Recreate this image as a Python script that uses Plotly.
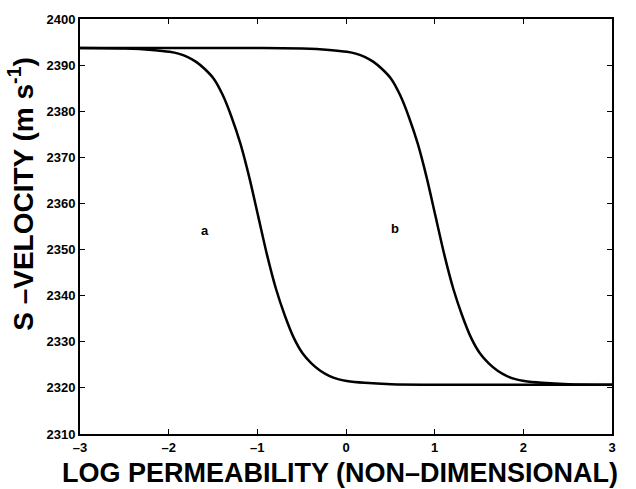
import plotly.graph_objects as go

# Curve a: log permeability vs S-velocity (m/s)
a_x = [-3.0, -2.49, -2.19, -1.99, -1.89, -1.79, -1.69, -1.59, -1.49, -1.39, -1.29,
       -1.19, -1.09, -0.99, -0.89, -0.79, -0.69, -0.59, -0.49, -0.39, -0.29,
       -0.19, -0.09, 0.01, 0.21, 0.51, 1.0, 3.0]
a_y = [2393.7, 2393.6, 2393.3, 2392.9, 2392.5, 2391.8, 2390.7, 2389.1, 2387.0,
       2383.5, 2378.7, 2372.9, 2365.6, 2357.2, 2348.8, 2341.5, 2335.7, 2330.9,
       2327.5, 2325.3, 2323.7, 2322.6, 2321.9, 2321.5, 2321.1, 2320.8, 2320.7,
       2320.7]

# Curve b
b_x = [-3.0, -1.0, -0.49, -0.19, 0.01, 0.11, 0.21, 0.31, 0.41, 0.51, 0.61, 0.71,
       0.81, 0.91, 1.01, 1.11, 1.21, 1.31, 1.41, 1.51, 1.61, 1.71, 1.81, 1.91,
       2.01, 2.21, 2.51, 3.0]
b_y = [2393.7, 2393.7, 2393.6, 2393.3, 2392.9, 2392.5, 2391.8, 2390.7, 2389.1,
       2387.0, 2383.5, 2378.7, 2372.9, 2365.6, 2357.2, 2348.8, 2341.5, 2335.7,
       2330.9, 2327.5, 2325.3, 2323.7, 2322.6, 2321.9, 2321.5, 2321.1, 2320.8,
       2320.7]

x_ticks = [-3, -2, -1, 0, 1, 2, 3]
x_tick_labels = ["\u20133", "\u20132", "\u20131", "0", "1", "2", "3"]
y_ticks = [2310, 2320, 2330, 2340, 2350, 2360, 2370, 2380, 2390, 2400]
y_tick_labels = [str(v) for v in y_ticks]

labels = [("a", -1.59, 2354.1), ("b", 0.553, 2354.5)]

FONT = "Liberation Sans, Arial, Helvetica, sans-serif"

fig = go.Figure()
for xs, ys in [(a_x, a_y), (b_x, b_y)]:
    fig.add_trace(go.Scatter(x=xs, y=ys, mode="lines",
                             line=dict(color="black", width=2.5, shape="spline", smoothing=0.8),
                             showlegend=False, hoverinfo="skip"))

axis_common = dict(showgrid=False, zeroline=False, showline=True, linecolor="black",
                   linewidth=2, mirror="ticks", ticks="inside", ticklen=5, tickwidth=1,
                   tickcolor="black",
                   tickfont=dict(family=FONT, size=13, color="black", weight="bold"))

fig.update_xaxes(range=[-3, 3], tickvals=x_ticks,
                 ticktext=["<b>%s</b>" % t for t in x_tick_labels], **axis_common)
fig.update_yaxes(range=[2310, 2400], tickvals=y_ticks,
                 ticktext=["<b>%s</b>" % t for t in y_tick_labels], **axis_common)

annotations = []
for t, x, y in labels:
    annotations.append(dict(text="<b>%s</b>" % t, x=x, y=y, xref="x", yref="y",
                            showarrow=False, font=dict(family=FONT, size=13, color="black")))
annotations.append(dict(text="<b>LOG PERMEABILITY (NON\u2013DIMENSIONAL)</b>",
                        x=0.489, y=-0.0526, xref="paper", yref="paper", showarrow=False,
                        xanchor="center", yanchor="top",
                        font=dict(family=FONT, size=27, color="black")))
annotations.append(dict(text="<b>S \u2013VELOCITY (m s<sup>-1</sup>)</b>",
                        x=-0.11, y=0.58, xref="paper", yref="paper", showarrow=False,
                        textangle=-90, xanchor="center", yanchor="middle",
                        font=dict(family=FONT, size=28, color="black")))

fig.update_layout(width=636, height=489, margin=dict(l=80, r=24, t=16, b=55),
                  paper_bgcolor="white", plot_bgcolor="white",
                  annotations=annotations)

fig.write_html("out.html")
